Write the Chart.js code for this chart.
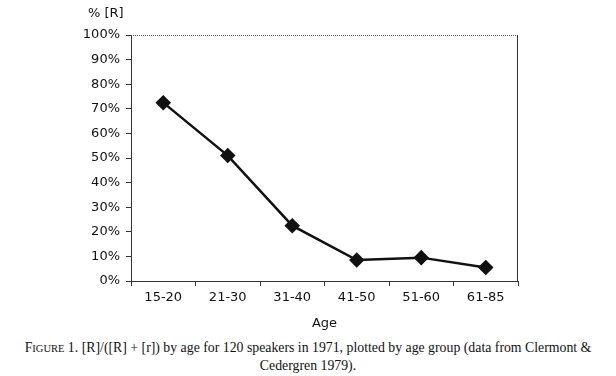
<!DOCTYPE html>
<html>
<head>
<meta charset="utf-8">
<script src="https://cdn.jsdelivr.net/npm/chart.js@4/dist/chart.umd.min.js"></script>
<style>
  html, body { margin: 0; padding: 0; background: #fff; }
  #wrap { position: relative; width: 616px; height: 376px; }
  #ytitle { position: absolute; left: 88px; top: 5px; font: 13px "DejaVu Sans", sans-serif; color: #111; }
  #caption { position: absolute; left: 0; top: 339px; width: 616px; text-align: center;
             font: 13.8px "Liberation Serif", "Times New Roman", serif; color: #111; line-height: 17px; }
  .sc { font-size: 10.5px; }
  canvas { position: absolute; left: 0; top: 0; }
</style>
</head>
<body>
<div id="wrap">
  <canvas id="c" width="616" height="335"></canvas>
  <div id="ytitle">% [R]</div>
  <div id="caption">F<span class="sc">IGURE</span> 1. [R]/([R] + [r]) by age for 120 speakers in 1971, plotted by age group (data from Clermont &amp;<br>Cedergren 1979).</div>
</div>
<script>
const categories = ["15-20", "21-30", "31-40", "41-50", "51-60", "61-85"];
const rValues = [72.5, 51, 22.5, 8.5, 9.5, 5.5];
const yTicks = [0, 10, 20, 30, 40, 50, 60, 70, 80, 90, 100];

const frame = {
  id: 'frame',
  afterDraw(chart) {
    const a = chart.chartArea, ctx = chart.ctx;
    ctx.save();
    ctx.strokeStyle = '#555';
    ctx.lineWidth = 1;
    ctx.setLineDash([1, 1]);
    ctx.beginPath();
    ctx.moveTo(a.left, a.top + 0.5);
    ctx.lineTo(a.right, a.top + 0.5);
    ctx.stroke();
    ctx.setLineDash([]);
    ctx.strokeStyle = '#333';
    ctx.beginPath();
    ctx.moveTo(a.right - 0.5, a.top);
    ctx.lineTo(a.right - 0.5, a.bottom);
    ctx.stroke();
    ctx.restore();
  }
};

new Chart(document.getElementById('c'), {
  type: 'line',
  data: {
    labels: categories,
    datasets: [{
      data: rValues,
      borderColor: '#111',
      backgroundColor: '#111',
      borderWidth: 2.5,
      pointStyle: 'rectRot',
      pointRadius: 6,
      pointBorderColor: '#111',
      pointBackgroundColor: '#111',
      tension: 0
    }]
  },
  plugins: [frame],
  options: {
    responsive: false,
    animation: false,
    layout: { padding: { top: 35, right: 98, bottom: 4, left: 0 } },
    plugins: { legend: { display: false }, tooltip: { enabled: false }, title: { display: false } },
    scales: {
      x: {
        offset: true,
        grid: { display: true, drawOnChartArea: false, tickLength: 5, color: '#333', offset: true },
        border: { color: '#333', width: 1 },
        ticks: { color: '#111', font: { family: 'DejaVu Sans', size: 13 }, padding: 4, maxRotation: 0 },
        title: { display: true, text: 'Age', color: '#111', font: { family: 'DejaVu Sans', size: 13 }, padding: { top: 6, bottom: 0 } },
        afterFit(s) { s.height = 50; }
      },
      y: {
        min: 0, max: 100,
        afterBuildTicks(s) { s.ticks = yTicks.map(v => ({ value: v })); },
        grid: { display: true, drawOnChartArea: false, tickLength: 5, color: '#333' },
        border: { color: '#333', width: 1 },
        ticks: { color: '#111', font: { family: 'DejaVu Sans', size: 13 }, padding: 6, callback: v => v + '%' },
        afterFit(s) { s.width = 131; }
      }
    }
  }
});
</script>
</body>
</html>
